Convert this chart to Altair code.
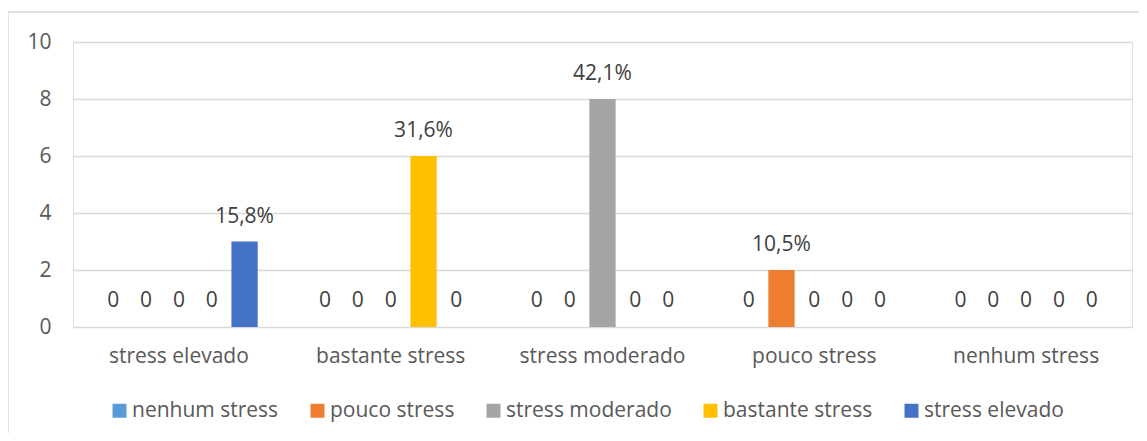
import altair as alt
import pandas as pd

categories = ["stress elevado", "bastante stress", "stress moderado", "pouco stress", "nenhum stress"]
series = ["nenhum stress", "pouco stress", "stress moderado", "bastante stress", "stress elevado"]
colors = ["#5B9BD5", "#ED7D31", "#A5A5A5", "#FFC000", "#4472C4"]
# values[category][series]
values = [
    [0, 0, 0, 0, 3],
    [0, 0, 0, 6, 0],
    [0, 0, 8, 0, 0],
    [0, 2, 0, 0, 0],
    [0, 0, 0, 0, 0],
]
labels = [
    ["0", "0", "0", "0", "15,8%"],
    ["0", "0", "0", "31,6%", "0"],
    ["0", "0", "42,1%", "0", "0"],
    ["0", "10,5%", "0", "0", "0"],
    ["0", "0", "0", "0", "0"],
]

rows = []
for ci, c in enumerate(categories):
    for si, s in enumerate(series):
        rows.append({"cat": c, "ser": s, "val": values[ci][si], "lab": labels[ci][si]})
df = pd.DataFrame(rows)

FONT = "Open Sans"
FS = 21
x = alt.X("cat:N", sort=categories, title=None,
          scale=alt.Scale(paddingInner=0.225, paddingOuter=0.1125),
          axis=alt.Axis(labelAngle=0, ticks=False, domain=False, labelFontSize=FS,
                        labelColor="#595959", labelPadding=18, labelFont=FONT))
xo = alt.XOffset("ser:N", sort=series, scale=alt.Scale(paddingInner=0.2, paddingOuter=0.1))

frame = alt.Chart(pd.DataFrame({"k": [0]})).mark_rect(fill=None, stroke="#D9D9D9", strokeWidth=1.5).encode(
    x=alt.value(-65), x2=alt.value(1100), y=alt.value(-30), y2=alt.value(440)
)

bars = alt.Chart(df).mark_bar().encode(
    x=x, xOffset=xo,
    y=alt.Y("val:Q", title=None, scale=alt.Scale(domain=[0, 10]),
            axis=alt.Axis(values=[0, 2, 4, 6, 8, 10], ticks=False, domain=False,
                          labelFontSize=FS, labelColor="#595959", labelPadding=22,
                          gridColor="#D9D9D9", gridWidth=1.5, labelFont=FONT)),
    color=alt.Color("ser:N", sort=series, title=None,
                    scale=alt.Scale(domain=series, range=colors),
                    legend=alt.Legend(orient="none", direction="horizontal",
                                      legendX=36, legendY=73 + 285,
                                      symbolType="square", symbolSize=196,
                                      symbolStrokeWidth=0, labelFontSize=FS,
                                      labelColor="#595959", labelFont=FONT,
                                      labelLimit=400, columnPadding=28, labelOffset=2)),
)

text = alt.Chart(df).mark_text(fontSize=FS, color="#404040", font=FONT, baseline="middle").encode(
    x=x, xOffset=xo,
    y=alt.Y("val:Q"),
    text="lab:N",
)
text_top = text.transform_filter("datum.val > 0").mark_text(
    fontSize=FS, color="#404040", font=FONT, baseline="middle", dy=-25)
text_zero = text.transform_filter("datum.val == 0").mark_text(
    fontSize=FS, color="#404040", font=FONT, baseline="middle", dy=-26)

chart = alt.layer(frame, bars, text_zero, text_top).properties(
    width=1059, height=285,
    autosize=alt.AutoSizeParams(type="none"),
    padding={"left": 65, "top": 34, "right": 7, "bottom": 106},
).configure_view(stroke=None).configure(background="white")

chart.save("out.html", embed_options={"renderer": "svg", "actions": False})
